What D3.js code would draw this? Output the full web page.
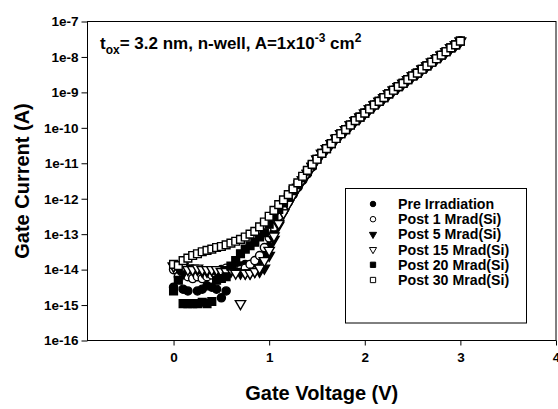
<!DOCTYPE html>
<html><head><meta charset="utf-8">
<script src="https://cdn.jsdelivr.net/npm/d3@7"></script>
<style>
html,body{margin:0;padding:0;background:#fff;}
svg text{font-family:"Liberation Sans",Arial,Helvetica,sans-serif;font-weight:bold;fill:#000;}
</style></head>
<body>
<svg id="chart" width="558" height="409"></svg>
<script>
// Gate voltage sweep (V)
const voltage = [0,0.05,0.1,0.15,0.2,0.25,0.3,0.35,0.4,0.45,0.5,0.55,0.6,0.65,0.7,0.75,0.8,0.85,0.9,0.95,
  1.0,1.05,1.1,1.15,1.2,1.25,1.3,1.35,1.4,1.45,1.5,1.55,1.6,1.65,1.7,1.75,1.8,1.85,1.9,1.95,
  2.0,2.05,2.1,2.15,2.2,2.25,2.3,2.35,2.4,2.45,2.5,2.55,2.6,2.65,2.7,2.75,2.8,2.85,2.9,2.95,3.0];

// Gate current (A) for 0 ... 1.45 V, per series
const preIrr   = [3.2e-15,1.0e-14,2.8e-15,2.5e-15,6.3e-15,2.5e-15,2.8e-15,3.5e-15,3.2e-15,2.8e-15,
  1.6e-15,2.5e-15,1.1e-14,1.0e-14,1.26e-14,1.4e-14,1.4e-14,1.6e-14,1.8e-14,2.5e-14,
  4.5e-14,1.1e-13,2.2e-13,4.5e-13,7.9e-13,1.3e-12,2.1e-12,3.3e-12,5.0e-12,7.9e-12];
const post1    = [1.0e-14,6.3e-15,7.9e-15,6.3e-15,5.6e-15,6.3e-15,5.6e-15,6.3e-15,7.1e-15,8.9e-15,
  1.0e-14,1.1e-14,1.1e-14,1.0e-14,1.0e-14,1.1e-14,1.4e-14,1.8e-14,2.5e-14,4.2e-14,
  7.9e-14,1.6e-13,3.2e-13,5.6e-13,8.9e-13,1.4e-12,2.2e-12,3.5e-12,5.4e-12,8.3e-12];
const post5    = [1.26e-14,1.1e-14,7.9e-15,1.1e-14,1.1e-14,1.0e-14,8.9e-15,8.9e-15,1.0e-14,8.9e-15,
  1.0e-14,1.0e-14,8.9e-15,8.9e-15,7.9e-15,7.9e-15,7.9e-15,8.9e-15,8.9e-15,1.1e-14,
  2.5e-14,7.1e-14,1.8e-13,4.0e-13,7.1e-13,1.26e-12,2.1e-12,3.4e-12,5.2e-12,8.1e-12];
const post15   = [1.26e-14,1.4e-14,1.26e-14,1.0e-14,1.0e-14,1.1e-14,1.0e-14,1.0e-14,1.0e-14,1.0e-14,
  8.9e-15,8.9e-15,1.0e-14,7.9e-15,1.1e-15,7.9e-15,7.9e-15,8.9e-15,1.1e-14,1.8e-14,
  3.5e-14,8.9e-14,2.0e-13,4.0e-13,7.1e-13,1.26e-12,2.1e-12,3.4e-12,5.2e-12,8.1e-12];
const post20   = [2.5e-15,5.0e-15,1.1e-15,1.1e-15,1.1e-15,1.1e-15,1.2e-15,1.1e-15,1.26e-15,5.0e-15,
  5.6e-15,6.3e-15,1.26e-14,1.8e-14,2.8e-14,3.8e-14,4.7e-14,5.9e-14,8.3e-14,1.1e-13,
  1.9e-13,3.2e-13,5.0e-13,7.6e-13,1.1e-12,1.7e-12,2.5e-12,3.9e-12,6.0e-12,8.9e-12];
const post30   = [1.4e-14,1.3e-14,1.8e-14,2.1e-14,2.5e-14,2.8e-14,3.2e-14,3.5e-14,3.8e-14,4.2e-14,
  4.5e-14,5.0e-14,5.6e-14,6.3e-14,7.1e-14,8.3e-14,1.0e-13,1.2e-13,1.6e-13,2.2e-13,
  3.2e-13,4.7e-13,6.8e-13,9.3e-13,1.3e-12,1.9e-12,2.8e-12,4.3e-12,6.3e-12,9.3e-12];
// Gate current (A) for 1.5 ... 3.0 V, where all curves coincide
const highV = [1.3e-11,1.9e-11,2.6e-11,3.6e-11,5.0e-11,6.8e-11,8.9e-11,1.2e-10,1.6e-10,2.0e-10,
  2.6e-10,3.4e-10,4.4e-10,5.6e-10,7.1e-10,9.1e-10,1.15e-9,1.45e-9,1.8e-9,2.3e-9,
  2.9e-9,3.5e-9,4.5e-9,5.6e-9,7.1e-9,8.9e-9,1.12e-8,1.4e-8,1.8e-8,2.2e-8,2.8e-8];

const seriesNames = ["Pre Irradiation","Post 1 Mrad(Si)","Post 5 Mrad(Si)","Post 15 Mrad(Si)","Post 20 Mrad(Si)","Post 30 Mrad(Si)"];
const xTicks = [0,1,2,3,4];
const yTicks = [1e-16,1e-15,1e-14,1e-13,1e-12,1e-11,1e-10,1e-9,1e-8,1e-7];
const yTickLabels = ["1e-16","1e-15","1e-14","1e-13","1e-12","1e-11","1e-10","1e-9","1e-8","1e-7"];

const lowSets = [preIrr, post1, post5, post15, post20, post30];
const markers = [
  {type:d3.symbolCircle, fill:"#000", rot:0, size:52, lsize:24},
  {type:d3.symbolCircle, fill:"#fff", rot:0, size:52, lsize:24},
  {type:d3.symbolTriangle, fill:"#000", rot:180, size:46, lsize:22},
  {type:d3.symbolTriangle, fill:"#fff", rot:180, size:46, lsize:22},
  {type:d3.symbolSquare, fill:"#000", rot:0, size:60, lsize:28},
  {type:d3.symbolSquare, fill:"#fff", rot:0, size:60, lsize:28}
];
const series = seriesNames.map((name,i)=>({
  name, m: markers[i],
  pts: lowSets[i].concat(highV).map((c,j)=>({v:voltage[j], c}))
}));

const svg = d3.select("#chart");
const L=87.5, R=556, T=21.5, B=340.5;
const x = d3.scaleLinear().domain([-0.9,4]).range([L,R]);
const y = d3.scaleLog().domain([1e-16,1e-7]).range([B,T]);

// frame
svg.append("rect").attr("x",L).attr("y",T).attr("width",R-L).attr("height",B-T)
  .attr("fill","none").attr("stroke","#000").attr("stroke-width",1);

// axes
const xAxis = d3.axisBottom(x).tickValues(xTicks).tickSize(5).tickPadding(7).tickFormat(d3.format("d"));
const gx = svg.append("g").attr("transform",`translate(0,${B})`).call(xAxis);
gx.select(".domain").remove();
gx.selectAll("text").style("font-size","13.5px").style("font-family","Liberation Sans, Arial, sans-serif").style("font-weight","bold");

const yAxis = d3.axisLeft(y).tickValues(yTicks).tickSize(6).tickPadding(3).tickFormat((d,i)=>yTickLabels[i]);
const gy = svg.append("g").attr("transform",`translate(${L},0)`).call(yAxis);
gy.select(".domain").remove();
gy.selectAll("text").style("font-size","13.5px").style("font-family","Liberation Sans, Arial, sans-serif").style("font-weight","bold");

// data markers
series.forEach(s=>{
  svg.append("g").selectAll("path").data(s.pts).join("path")
    .attr("d", d3.symbol().type(s.m.type).size(s.m.size))
    .attr("transform", d=>`translate(${x(d.v)},${y(d.c)}) rotate(${s.m.rot})`)
    .attr("fill", s.m.fill).attr("stroke","#000").attr("stroke-width",1.4);
});

// axis titles
svg.append("text").attr("x",(L+R)/2).attr("y",400).attr("text-anchor","middle")
  .style("font-size","20px").text("Gate Voltage (V)");
svg.append("text").attr("transform",`translate(29,${(T+B)/2}) rotate(-90)`).attr("text-anchor","middle")
  .style("font-size","20px").text("Gate Current (A)");

// annotation
const ann = svg.append("text").attr("x",100).attr("y",49).style("font-size","17px");
ann.append("tspan").text("t");
ann.append("tspan").attr("dy",5).style("font-size","12px").text("ox");
ann.append("tspan").attr("dy",-5).text("= 3.2 nm, n-well, A=1x10");
ann.append("tspan").attr("dy",-7).style("font-size","12px").text("-3");
ann.append("tspan").attr("dy",7).text(" cm");
ann.append("tspan").attr("dy",-7).style("font-size","12px").text("2");

// legend
const lg = svg.append("g");
lg.append("rect").attr("x",345.5).attr("y",188.5).attr("width",181).attr("height",134.5)
  .attr("fill","#fff").attr("stroke","#000").attr("stroke-width",1);
series.forEach((s,i)=>{
  const cy = 204 + i*15.2;
  lg.append("path").attr("d", d3.symbol().type(s.m.type).size(s.m.lsize))
    .attr("transform",`translate(373,${cy}) rotate(${s.m.rot})`)
    .attr("fill",s.m.fill).attr("stroke","#000").attr("stroke-width",1);
  lg.append("text").attr("x",398).attr("y",cy+5).style("font-size","14.2px").text(s.name);
});
</script>
</body></html>
